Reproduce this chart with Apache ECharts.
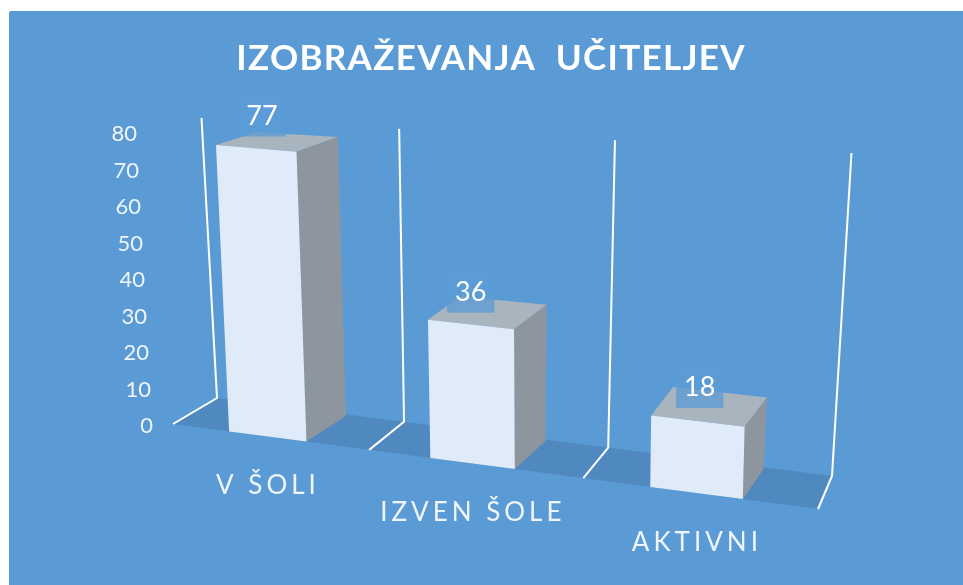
<!DOCTYPE html>
<html><head><meta charset="utf-8">
<style>html,body{margin:0;padding:0;background:#fff}#c{width:963px;height:585px}</style>
<script src="https://cdn.jsdelivr.net/npm/echarts@6/dist/echarts.min.js"></script>
</head><body><div id="c"></div>
<script>
const titleText = 'IZOBRAŽEVANJA  UČITELJEV';
const categories = ['V ŠOLI', 'IZVEN ŠOLE', 'AKTIVNI'];
const values = [77, 36, 18];
const yTicks = [0, 10, 20, 30, 40, 50, 60, 70, 80];

// letter spacing by font size (text itself stays one real string)
const TRACKING = { 35: '1.3px', 26: '4px' };
const nativeFill = CanvasRenderingContext2D.prototype.fillText;
CanvasRenderingContext2D.prototype.fillText = function (t, x, y, w) {
  const m = /(\d+(?:\.\d+)?)px/.exec(this.font);
  this.letterSpacing = (m && TRACKING[+m[1]]) || '0px';
  return w === undefined ? nativeFill.call(this, t, x, y) : nativeFill.call(this, t, x, y, w);
};

// the perspective box: corners [u side, height, depth] on screen
const BOX = {
  back:  { l0: [217, 398], r0: [832, 476], l1: [201.5, 118], r1: [851.5, 153] },
  front: { l0: [173, 424], r0: [818, 509], l1: [157, 129], r1: [829, 184] }
};
const W_RIGHT = 0.874;
const BAR_BACK = 0.95;
const BACK_WIDEN = 0.006;
const GAP_LEFT = 0.295;
const GAP_RIGHT = 0.31;
const LABEL_NUDGE = [[-14, -26], [-16, -21], [-9, -20]];

function project(t, h, d) {
  // t: 0..1 across, h: 0..1 height, d: 0 front .. 1 back; homogeneous interpolation
  const wl = 1 - t, wr = t * W_RIGHT, den = wl + wr;
  const pick = (s, key0, key1) => {
    const a = s[key0], b = s[key1];
    return [(a[0] * wl + b[0] * wr) / den, (a[1] * wl + b[1] * wr) / den];
  };
  const lerp = (a, b, k) => [a[0] + (b[0] - a[0]) * k, a[1] + (b[1] - a[1]) * k];
  const f = lerp(pick(BOX.front, 'l0', 'r0'), pick(BOX.front, 'l1', 'r1'), h);
  const b = lerp(pick(BOX.back, 'l0', 'r0'), pick(BOX.back, 'l1', 'r1'), h);
  return lerp(f, b, d);
}
// data position -> normalised box position through the cartesian scales
function toBox(api, params, cat, val, uOff) {
  const p = api.coord([cat, val]);
  const band = api.size([1, 0])[0];
  const r = params.coordSys;
  return { t: (p[0] + (uOff || 0) * band - r.x) / r.width, h: (r.y + r.height - p[1]) / r.height };
}

const WHITE = '#ffffff';
const chart = echarts.init(document.getElementById('c'), null, { renderer: 'canvas' });

function renderWalls(params, api) {
  const cat = api.value(0), children = [];
  const line = (off) => {
    const b = toBox(api, params, cat, 0, off), top = toBox(api, params, cat, 80, off);
    children.push({ type: 'polyline', shape: { points: [project(b.t, top.h, 1), project(b.t, 0, 1), project(b.t, 0, 0)] },
      style: { stroke: WHITE, lineWidth: 2, fill: 'none', lineJoin: 'miter' }, z2: 2 });
  };
  if (cat === 0) {
    const l = toBox(api, params, 0, 0, -0.5).t, n = categories.length - 1, r = toBox(api, params, n, 0, 0.5).t;
    children.push({ type: 'polygon', shape: { points: [project(l, 0, 0), project(l, 0, 1), project(r, 0, 1), project(r, 0, 0)] },
      style: { fill: '#5089BF' }, z2: 1 });
  }
  line(-0.5);
  if (cat === categories.length - 1) line(0.5);
  return { type: 'group', children };
}

function renderBars(params, api) {
  const cat = api.value(0), val = api.value(1);
  const L = toBox(api, params, cat, val, -0.5 + GAP_LEFT), R = toBox(api, params, cat, 0, 0.5 - GAP_RIGHT);
  const h = L.h, t0 = L.t, t1 = R.t, tb = t1 + BACK_WIDEN;
  const p = (t, hh, d) => project(t, hh, d);
  return { type: 'group', children: [
    { type: 'polygon', shape: { points: [p(t0, h, 0), p(t1, h, 0), p(tb, h, BAR_BACK), p(t0, h, BAR_BACK)] }, style: { fill: '#A9B5BE' } },
    { type: 'polygon', shape: { points: [p(t1, 0, 0), p(t1, h, 0), p(tb, h, BAR_BACK), p(tb, 0, BAR_BACK)] }, style: { fill: '#8D969E' } },
    { type: 'polygon', shape: { points: [p(t0, 0, 0), p(t1, 0, 0), p(t1, h, 0), p(t0, h, 0)] }, style: { fill: '#DFEBF8' } }
  ] };
}

function renderValueLabels(params, api) {
  const cat = api.value(0), val = api.value(1);
  const b = toBox(api, params, cat, val, 0);
  const c = project(b.t, b.h, 0.45);
  const n = LABEL_NUDGE[cat];
  return { type: 'text', x: c[0] + n[0], y: c[1] + n[1],
    style: { text: String(val), fill: WHITE, font: '27px Lato', align: 'center', verticalAlign: 'middle',
      backgroundColor: 'rgba(91,155,213,0.75)', padding: [6, 8, 8, 8] } };
}

function renderTicks(params, api) {
  const val = api.value(1);
  const b = toBox(api, params, 0, val, -0.5);
  const c = project(b.t, b.h, 0);
  return { type: 'text', x: c[0] - 20, y: c[1] + 2 + 3 * b.h,
    style: { text: String(val), fill: '#EFF5FB', font: '22px Lato', align: 'right', verticalAlign: 'middle' } };
}

function renderCats(params, api) {
  const cat = api.value(0);
  const b = toBox(api, params, cat, 0, 0);
  const c = project(b.t, 0, 0);
  return { type: 'text', x: c[0] - 1, y: c[1] + 49,
    style: { text: categories[cat], fill: '#EFF5FB', font: '26px Lato', align: 'center', verticalAlign: 'middle' } };
}

chart.setOption({
  animation: false,
  backgroundColor: '#ffffff',
  title: { text: titleText, left: 486, top: 36, textAlign: 'center',
    textStyle: { color: WHITE, fontFamily: 'Lato', fontWeight: 'bold', fontSize: 35 } },
  graphic: [{ type: 'rect', z: -1, shape: { x: 9, y: 11, width: 970, height: 590, r: 2 }, style: { fill: '#5B9BD5' } }],
  grid: { left: 100, top: 100, width: 600, height: 300 },
  xAxis: { type: 'category', data: categories, show: false },
  yAxis: { type: 'value', min: 0, max: 80, interval: 10, show: false },
  series: [
    { type: 'custom', name: 'walls', renderItem: renderWalls, data: categories.map((c, i) => [i, 0]), silent: true, z: 2 },
    { type: 'custom', name: 'bars', renderItem: renderBars, data: values.map((v, i) => [i, v]), z: 3 },
    { type: 'custom', name: 'values', renderItem: renderValueLabels, data: values.map((v, i) => [i, v]), silent: true, z: 4 },
    { type: 'custom', name: 'ticks', renderItem: renderTicks, data: yTicks.map(v => [0, v]), silent: true, z: 4 },
    { type: 'custom', name: 'cats', renderItem: renderCats, data: categories.map((c, i) => [i, 0]), silent: true, z: 4 }
  ]
});
</script></body></html>
